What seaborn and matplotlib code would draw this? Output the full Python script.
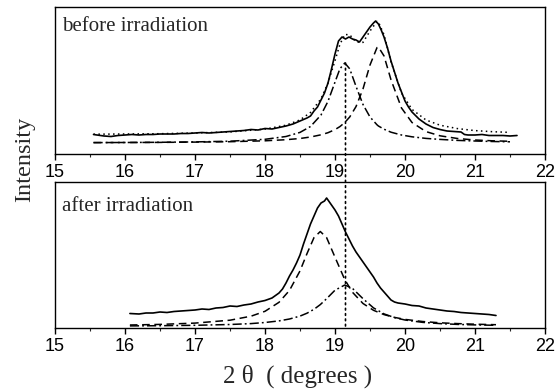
import numpy as np
import pandas as pd
import matplotlib
matplotlib.use("Agg")
import matplotlib.pyplot as plt
from matplotlib.patches import ConnectionPatch
from matplotlib.ticker import MultipleLocator
import seaborn as sns

# ---------------- data (arbitrary intensity units) ----------------
# top panel: before irradiation
before_meas_x = [15.55, 15.6, 15.7, 15.8, 15.9, 16.0, 16.1, 16.2, 16.3, 16.4, 16.5, 16.6, 16.7, 16.8,
                 16.9, 17.0, 17.1, 17.2, 17.3, 17.4, 17.5, 17.6, 17.7, 17.8, 17.9, 18.0, 18.1, 18.2,
                 18.3, 18.4, 18.5, 18.6, 18.65, 18.7, 18.75, 18.8, 18.85, 18.9, 18.95, 19.0, 19.05,
                 19.1, 19.15, 19.2, 19.25, 19.3, 19.35, 19.4, 19.45, 19.5, 19.55, 19.58, 19.62, 19.66,
                 19.7, 19.75, 19.8, 19.85, 19.9, 19.95, 20.0, 20.05, 20.1, 20.2, 20.3, 20.4, 20.5,
                 20.6, 20.7, 20.8, 20.85, 20.9, 21.0, 21.1, 21.2, 21.3, 21.4, 21.5, 21.6]
before_meas_y = [19.5, 19, 18, 17.5, 18.5, 19, 19.5, 19, 19.5, 19.5, 20, 20, 20, 20.5,
                 20.5, 21, 21.5, 21, 21.5, 22, 22.5, 23, 23.5, 24.5, 24, 25.5, 25, 26.5,
                 28, 30, 33, 36, 38, 43, 47, 54, 61, 71, 85, 100, 113,
                 117, 115, 117, 115, 114, 112, 117, 122, 127, 131, 133, 130, 124,
                 117, 106, 93, 82, 71, 62, 53, 47, 42, 35, 30, 26.5, 24.5,
                 23, 22.5, 22, 19.5, 19, 19, 19.5, 18.5, 18.5, 18.5, 18, 18.5]

before_fit_x = [15.55, 16.0, 16.5, 17.0, 17.5, 18.0, 18.3, 18.5, 18.65, 18.8, 18.9, 19.0, 19.07,
                19.14, 19.21, 19.3, 19.4, 19.5, 19.6, 19.62, 19.7, 19.8, 19.95, 20.1, 20.3, 20.5,
                20.75, 21.0, 21.25, 21.5]
before_sum_y = [19.8, 20, 20.3, 21, 22.1, 24.9, 28.8, 34.1, 41.5, 55.2, 71, 93.3, 109.6,
                119.5, 119.2, 112.1, 111.6, 123, 132.6, 132, 119.4, 92.2, 61, 44.6, 34, 28.8,
                25.4, 23.4, 22.3, 21.6]
before_peak1_y = [11.4, 11.5, 11.7, 12.1, 12.8, 14.7, 17.5, 21.6, 27.5, 39, 52.7, 71.9, 85.2,
                  91, 85.2, 67.7, 49.5, 37, 29.2, 28, 24.8, 21.8, 19, 17.2, 15.6, 14.6,
                  13.6, 13, 12.5, 12.2]
before_peak2_y = [11.4, 11.5, 11.6, 11.9, 12.3, 13.2, 14.3, 15.5, 17, 19.2, 21.3, 24.4, 27.4,
                  31.5, 37, 47.4, 65.1, 89, 106.4, 107, 98.1, 74.2, 46, 31.5, 22.4, 18.2,
                  15.5, 14, 13.2, 12.7]

# bottom panel: after irradiation
after_meas_x = [16.07, 16.2, 16.3, 16.4, 16.5, 16.6, 16.7, 16.8, 16.9, 17.0, 17.1, 17.2, 17.3, 17.4,
                17.5, 17.6, 17.7, 17.8, 17.9, 18.0, 18.1, 18.2, 18.25, 18.3, 18.35, 18.4, 18.45,
                18.5, 18.55, 18.6, 18.65, 18.7, 18.75, 18.8, 18.85, 18.88, 18.92, 18.96, 19.0,
                19.05, 19.1, 19.15, 19.2, 19.25, 19.3, 19.35, 19.4, 19.45, 19.5, 19.55, 19.6,
                19.65, 19.7, 19.75, 19.8, 19.85, 19.9, 20.0, 20.1, 20.2, 20.3, 20.4, 20.5, 20.6,
                20.7, 20.8, 20.9, 21.0, 21.1, 21.2, 21.3]
after_meas_y = [14.5, 14, 15, 15, 16, 15.5, 16.5, 17, 17.5, 18, 19, 18.5, 20, 20.5,
                22, 21.5, 23, 24, 26, 27.5, 30, 35, 39, 45, 52, 58, 65,
                73, 84, 94, 104, 112, 120, 125, 127, 130, 126, 122, 118,
                112, 104, 96, 89, 82, 76, 71, 66, 61, 56, 51, 45,
                40, 36, 32, 28, 26, 25, 24, 22.5, 22, 20, 19, 18, 17,
                16.5, 15.5, 15, 14.5, 14, 13.5, 12.5]

after_fit_x = [16.07, 16.5, 17.0, 17.5, 17.8, 18.0, 18.2, 18.35, 18.5, 18.6, 18.7, 18.79, 18.88,
               19.0, 19.14, 19.25, 19.4, 19.55, 19.7, 19.85, 20.0, 20.25, 20.5, 20.75, 21.0, 21.3]
after_peak1_y = [3.0, 3.6, 4.9, 7.8, 11.8, 16.7, 25.7, 37.6, 57.1, 74.4, 90.4, 96.5, 90.4,
                 70.8, 48.3, 35.7, 24.5, 17.7, 13.4, 10.6, 8.6, 6.5, 5.2, 4.4, 3.8, 3.3]
after_peak2_y = [2.1, 2.3, 2.7, 3.5, 4.4, 5.5, 7.1, 9, 11.9, 14.8, 18.7, 23.4, 29.3,
                 37.8, 43, 39.6, 29.3, 20.1, 14.1, 10.4, 8, 5.65, 4.4, 3.6, 3.1, 2.7]

marker_x = 19.15
marker_top_y = 91
x_ticks = [15, 16, 17, 18, 19, 20, 21, 22]
panel_labels = ["before irradiation", "after irradiation"]

# ---------------- style ----------------
sns.set_style("white")
plt.rcParams["font.family"] = ["Liberation Sans", "DejaVu Sans"]

fig = plt.figure(figsize=(5.58, 3.92), dpi=100)
W, H = 558, 392
ax1 = fig.add_axes([55 / W, 1 - 154 / H, 490 / W, 147 / H])
ax2 = fig.add_axes([55 / W, 1 - 328 / H, 490 / W, 146 / H])

lw = 1.2
def draw(ax, x, y, ls, w=lw):
    df = pd.DataFrame({"x": x, "y": y})
    sns.lineplot(data=df, x="x", y="y", ax=ax, color="black", lw=w, linestyle=ls,
                 sort=False, estimator=None)

draw(ax1, before_fit_x, before_sum_y, (0, (1, 2.2)), 1.1)
draw(ax1, before_fit_x, before_peak1_y, (0, (6, 2, 1.2, 2)), 1.1)
draw(ax1, before_fit_x, before_peak2_y, (0, (5, 3)), 1.1)
draw(ax1, before_meas_x, before_meas_y, "-")

draw(ax2, after_fit_x, after_peak1_y, (0, (5, 3)), 1.1)
draw(ax2, after_fit_x, after_peak2_y, (0, (6, 2, 1.2, 2)), 1.1)
draw(ax2, after_meas_x, after_meas_y, "-")

for ax, top, lab, ly in [(ax1, 147, panel_labels[0], 0.93), (ax2, 146, panel_labels[1], 0.895)]:
    ax.set_xlim(x_ticks[0], x_ticks[-1])
    ax.set_ylim(0, top)
    ax.set_xticks(x_ticks)
    ax.xaxis.set_minor_locator(MultipleLocator(0.5))
    ax.set_yticks([])
    ax.set_xlabel("")
    ax.set_ylabel("")
    for s in ax.spines.values():
        s.set_visible(True)
        s.set_color("black")
        s.set_linewidth(1.0)
    ax.tick_params(axis="x", which="major", direction="out", length=4, width=1,
                   labelsize=13, pad=3, colors="black", bottom=True)
    ax.tick_params(axis="x", which="minor", direction="out", length=2.5, width=0.8,
                   bottom=True)
    ax.text(0.014, ly, lab, transform=ax.transAxes, ha="left", va="top",
            fontsize=15, family=["Liberation Serif"])
    ax.set_facecolor("white")

# vertical dotted marker across both panels
con = ConnectionPatch(xyA=(marker_x, marker_top_y), coordsA=ax1.transData,
                      xyB=(marker_x, 0), coordsB=ax2.transData,
                      linestyle=(0, (1, 2.2)), color="black", lw=1.2)
fig.add_artist(con)

fig.text(25 / W, 1 - 159 / H, "Intensity", rotation=90, ha="center", va="center",
         fontsize=17.5, family=["Liberation Serif"])
fig.text(298 / W, 1 - 376 / H, "2 θ  ( degrees )", ha="center", va="center",
         fontsize=18, family=["Liberation Serif", "DejaVu Serif"])

fig.savefig("out.png", dpi=100, facecolor="white")
